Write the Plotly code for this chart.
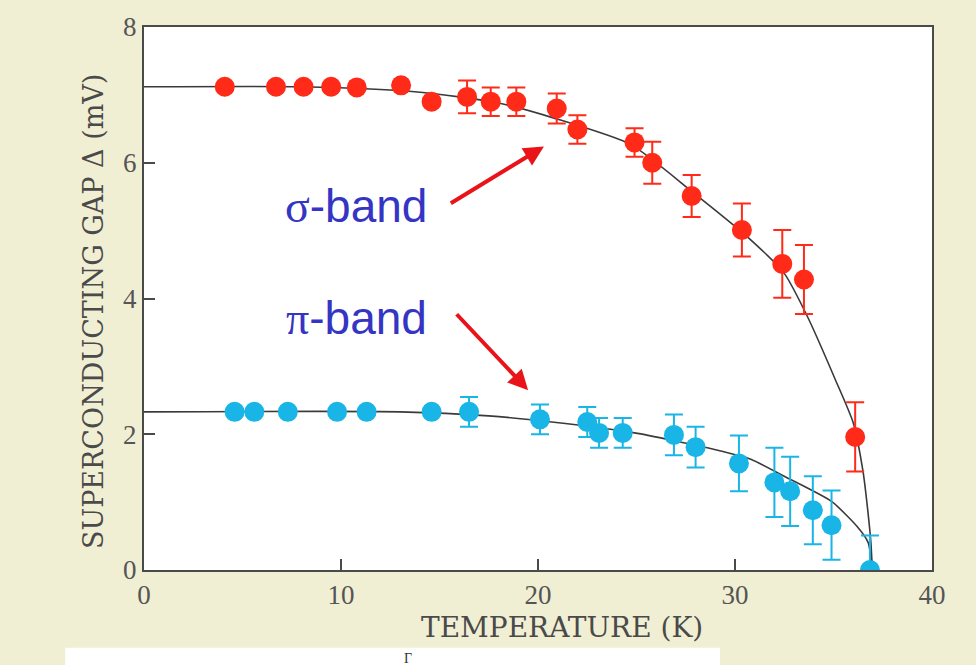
import plotly.graph_objects as go

# Superconducting gap of the two bands vs temperature
sigma_T = [4.1, 6.7, 8.1, 9.5, 10.8, 13.05, 14.6, 16.4, 17.6, 18.9, 20.95, 22.0, 24.9, 25.8, 27.8, 30.35, 32.4, 33.5, 36.1]
sigma_gap = [7.12, 7.12, 7.12, 7.12, 7.11, 7.14, 6.90, 6.97, 6.90, 6.90, 6.80, 6.49, 6.30, 6.00, 5.51, 5.01, 4.51, 4.28, 1.96]
sigma_err = [0, 0, 0, 0, 0, 0, 0, 0.24, 0.21, 0.21, 0.22, 0.21, 0.21, 0.31, 0.31, 0.39, 0.50, 0.51, 0.51]

pi_T = [4.6, 5.6, 7.3, 9.8, 11.3, 14.6, 16.5, 20.1, 22.5, 23.1, 24.3, 26.9, 28.0, 30.2, 32.0, 32.8, 33.95, 34.9, 36.85]
pi_gap = [2.33, 2.33, 2.33, 2.33, 2.33, 2.33, 2.33, 2.22, 2.18, 2.02, 2.02, 1.99, 1.81, 1.57, 1.29, 1.16, 0.88, 0.66, 0.0]
pi_err = [0, 0, 0, 0, 0, 0, 0.22, 0.22, 0.22, 0.22, 0.22, 0.30, 0.30, 0.41, 0.51, 0.51, 0.50, 0.51, 0.51]

# Fitted gap curves
sigma_fit_T = [0, 8, 12, 13.6, 16, 18, 20.9, 24.7, 27.8, 30.7, 32.5, 33.7, 35.1, 36.0, 36.5, 36.75, 36.9, 36.97]
sigma_fit = [7.12, 7.12, 7.08, 7.05, 6.97, 6.88, 6.65, 6.27, 5.58, 4.89, 4.37, 3.72, 2.80, 2.17, 1.45, 0.85, 0.40, 0.0]
pi_fit_T = [0, 13, 17.5, 20.7, 24.9, 28.6, 30.8, 32.5, 34.9, 36.2, 36.75, 36.9, 36.97]
pi_fit = [2.33, 2.33, 2.27, 2.18, 2.02, 1.80, 1.63, 1.38, 1.01, 0.64, 0.41, 0.20, 0.0]

x_ticks = [0, 10, 20, 30, 40]
y_ticks = [0, 2, 4, 6, 8]

RED = "#ff2a17"
CYAN = "#19b5e6"
LINE = "#3a3a3a"
SERIF = "Liberation Serif, Times New Roman, serif"
TITLE_SERIF = "DejaVu Serif, serif"

fig = go.Figure()

fig.add_trace(go.Scatter(x=sigma_fit_T, y=sigma_fit, mode="lines",
                         line=dict(color=LINE, width=1.6, shape="spline", smoothing=0.6),
                         hoverinfo="skip", showlegend=False))
fig.add_trace(go.Scatter(x=pi_fit_T, y=pi_fit, mode="lines",
                         line=dict(color=LINE, width=1.6, shape="spline", smoothing=0.6),
                         hoverinfo="skip", showlegend=False))

fig.add_trace(go.Scatter(
    x=sigma_T, y=sigma_gap, mode="markers", name="σ-band",
    marker=dict(color=RED, size=20),
    error_y=dict(type="data", array=sigma_err, visible=True, color=RED, thickness=2, width=9),
    showlegend=False))
fig.add_trace(go.Scatter(
    x=pi_T, y=pi_gap, mode="markers", name="π-band",
    marker=dict(color=CYAN, size=20),
    error_y=dict(type="data", array=pi_err, visible=True, color=CYAN, thickness=2, width=9),
    showlegend=False))

# Band labels with arrows
label_font = dict(family="Arial, Liberation Sans, sans-serif", size=46, color="#3535c4")
fig.add_annotation(x=10.75, y=5.36, xref="x", yref="y", showarrow=False,
                   text="<span style='font-family:Liberation Serif'>σ</span>-band", font=label_font)
fig.add_annotation(x=10.8, y=3.72, xref="x", yref="y", showarrow=False,
                   text="<span style='font-family:Liberation Serif'>π</span>-band", font=label_font)
fig.add_annotation(x=20.3, y=6.24, ax=15.5, ay=5.39, xref="x", yref="y", axref="x", ayref="y",
                   showarrow=True, arrowhead=2, arrowsize=1.0, arrowwidth=4, arrowcolor="#e8141a", text="")
fig.add_annotation(x=19.5, y=2.65, ax=15.8, ay=3.79, xref="x", yref="y", axref="x", ayref="y",
                   showarrow=True, arrowhead=2, arrowsize=1.0, arrowwidth=4, arrowcolor="#e8141a", text="")

# Axis titles
fig.add_annotation(xref="paper", yref="paper", x=-0.0647, y=0.475, xanchor="center", yanchor="middle",
                   showarrow=False, text="SUPERCONDUCTING GAP Δ (mV)", textangle=-90,
                   font=dict(family=TITLE_SERIF, size=27, color="#4a4a4a"))
fig.add_annotation(xref="paper", yref="paper", x=0.53, y=-0.106, xanchor="center", yanchor="middle",
                   showarrow=False, text="TEMPERATURE (K)",
                   font=dict(family=TITLE_SERIF, size=28, color="#4a4a4a"))

# White caption strip at the foot of the page
fig.add_shape(type="rect", xref="paper", yref="paper", x0=-0.10, x1=0.731, y0=-0.2, y1=-0.143,
              fillcolor="white", line=dict(width=0), layer="below")
fig.add_annotation(xref="paper", yref="paper", x=0.335, y=-0.146, yanchor="top", showarrow=False,
                   text="Γ", font=dict(family=SERIF, size=14, color="#333"))

axis_common = dict(showline=True, linecolor="#4a4a4a", linewidth=2, mirror=True,
                   ticks="inside", ticklen=11, tickwidth=2, tickcolor="#4a4a4a",
                   showgrid=False, zeroline=False,
                   tickfont=dict(family=SERIF, size=27, color="#555"))

fig.update_xaxes(range=[0, 40], tickvals=x_ticks, ticktext=[str(v) for v in x_ticks], **axis_common)
fig.update_yaxes(range=[0, 8], tickvals=y_ticks, ticktext=[str(v) for v in y_ticks], **axis_common)

fig.update_layout(width=976, height=665,
                  margin=dict(l=144, r=44, t=25, b=95),
                  paper_bgcolor="#f1efd3", plot_bgcolor="white")

fig.write_html("out.html")
